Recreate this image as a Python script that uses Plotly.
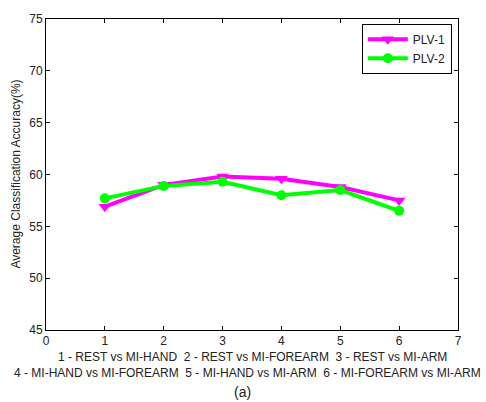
import plotly.graph_objects as go

x_vals = [1, 2, 3, 4, 5, 6]
plv1 = [56.9, 59.0, 59.8, 59.6, 58.8, 57.5]
plv2 = [57.7, 58.9, 59.3, 58.0, 58.5, 56.5]
x_ticks = [0, 1, 2, 3, 4, 5, 6, 7]
y_ticks = [45, 50, 55, 60, 65, 70, 75]
xlabel_lines = ["1 - REST vs MI-HAND  2 - REST vs MI-FOREARM  3 - REST vs MI-ARM",
                "4 - MI-HAND vs MI-FOREARM  5 - MI-HAND vs MI-ARM  6 - MI-FOREARM vs MI-ARM"]
ylabel = "Average Classification Accuracy(%)"
caption = "(a)"

font = "Liberation Sans, Arial, sans-serif"

fig = go.Figure()
fig.add_trace(go.Scatter(x=x_vals, y=plv1, mode="lines+markers", name="PLV-1",
                         line=dict(color="#FF00FF", width=4),
                         marker=dict(symbol="triangle-down", size=11, color="#FF00FF")))
fig.add_trace(go.Scatter(x=x_vals, y=plv2, mode="lines+markers", name="PLV-2",
                         line=dict(color="#00FF00", width=4),
                         marker=dict(symbol="circle", size=10, color="#00FF00")))

axis_common = dict(showline=True, linecolor="black", linewidth=1, mirror="ticks",
                   ticks="inside", ticklen=4, tickcolor="black", showgrid=False,
                   zeroline=False, tickfont=dict(family=font, size=12, color="#222"))

fig.update_xaxes(range=[0, 7], tickvals=x_ticks, **axis_common)
fig.update_yaxes(range=[45, 75], tickvals=y_ticks, **axis_common)

fig.update_layout(
    width=486, height=402,
    margin=dict(l=46, r=28, t=14, b=72),
    paper_bgcolor="white", plot_bgcolor="white",
    font=dict(family=font, size=12, color="#222"),
    showlegend=True,
    legend=dict(x=0.985, y=0.985, xanchor="right", yanchor="top",
                bordercolor="black", borderwidth=1, bgcolor="white",
                font=dict(family=font, size=12, color="#222"),
                itemwidth=40, tracegroupgap=0),
    annotations=[
        dict(text=xlabel_lines[0], xref="paper", yref="paper", x=0.5, y=-0.087,
             xanchor="center", yanchor="middle", showarrow=False,
             font=dict(family=font, size=12, color="#222")),
        dict(text=xlabel_lines[1], xref="paper", yref="paper", x=0.49, y=-0.138,
             xanchor="center", yanchor="middle", showarrow=False,
             font=dict(family=font, size=12, color="#222")),
        dict(text=caption, xref="paper", yref="paper", x=0.478, y=-0.198,
             xanchor="center", yanchor="middle", showarrow=False,
             font=dict(family=font, size=14, color="#222")),
        dict(text=ylabel, xref="paper", yref="paper", x=-0.075, y=0.5,
             xanchor="center", yanchor="middle", showarrow=False, textangle=-90,
             font=dict(family=font, size=12, color="#222")),
    ],
)

fig.write_html("out.html")
